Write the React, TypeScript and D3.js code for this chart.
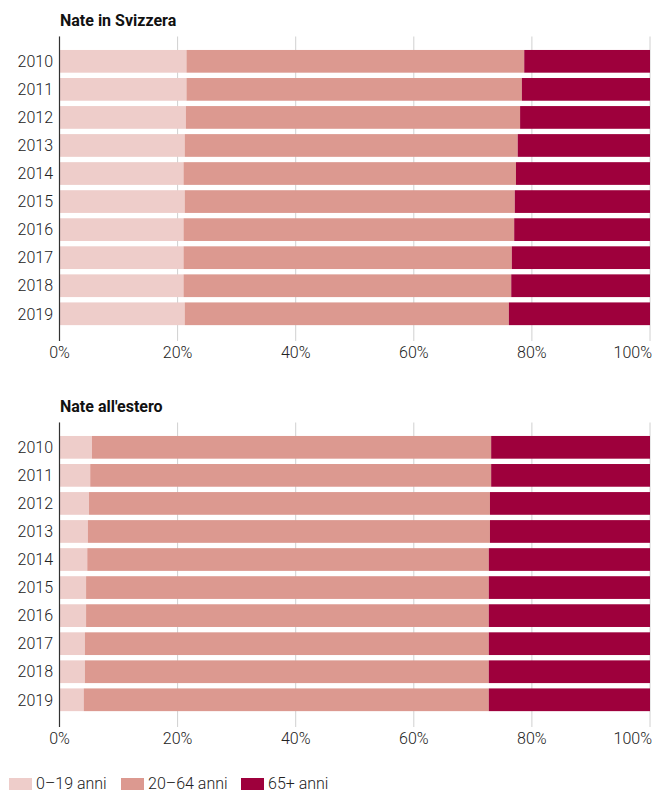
import React from "react";
import * as d3 from "d3";

const years = ["2010", "2011", "2012", "2013", "2014", "2015", "2016", "2017", "2018", "2019"];
const seriesKeys = ["0–19 anni", "20–64 anni", "65+ anni"];
const colors = ["#eecdca", "#dc9990", "#9e003c"];

// Nate in Svizzera (percent)
const swissYoung = [21.5, 21.5, 21.4, 21.2, 21.0, 21.2, 21.0, 21.0, 21.0, 21.2];
const swissOld = [21.3, 21.7, 22.0, 22.4, 22.7, 22.9, 23.0, 23.4, 23.5, 23.9];
// Nate all'estero (percent)
const foreignYoung = [5.5, 5.2, 5.0, 4.8, 4.7, 4.5, 4.5, 4.3, 4.3, 4.1];
const foreignOld = [26.9, 26.9, 27.1, 27.1, 27.3, 27.3, 27.3, 27.3, 27.3, 27.3];

const tickValues = [0, 20, 40, 60, 80, 100];

const W = 653;
const H = 792;
const FONT = "Roboto, 'Noto Sans', sans-serif";

function Panel({ title, young, old, top }: { title: string; young: number[]; old: number[]; top: number }) {
  const x = d3.scaleLinear().domain([0, 100]).range([59.5, 650]);
  const y = d3
    .scaleBand<string>()
    .domain(years)
    .range([top + 47.3, top + 47.3 + 28.05 * years.length])
    .paddingInner(0.19)
    .paddingOuter(0.095);
  const rows = years.map((yr, i) => {
    const mid = 100 - young[i] - old[i];
    return { yr, vals: [young[i], mid, old[i]] };
  });
  const stack = rows.map((r) => {
    let acc = 0;
    return r.vals.map((v) => {
      const s = acc;
      acc += v;
      return [s, acc];
    });
  });
  const gridTop = top + 36.5;
  const gridBottom = top + 341;
  return (
    <g>
      <text x={60} y={top + 26} fontFamily={FONT} fontWeight={700} fontSize={16} fill="#111">
        {title}
      </text>
      {tickValues.map((t) => (
        <line key={t} x1={x(t)} x2={x(t)} y1={gridTop} y2={gridBottom} stroke="#d0d0d0" strokeWidth={1} />
      ))}
      {rows.map((r, i) =>
        stack[i].map((s, k) => (
          <rect
            key={r.yr + k}
            x={x(s[0])}
            width={x(s[1]) - x(s[0])}
            y={y(r.yr)}
            height={y.bandwidth()}
            fill={colors[k]}
          />
        ))
      )}
      <line x1={59.5} x2={59.5} y1={gridTop} y2={gridBottom} stroke="#333" strokeWidth={1.2} />
      {years.map((yr) => (
        <text
          key={yr}
          x={53}
          y={(y(yr) as number) + y.bandwidth() / 2}
          dy="0.36em"
          textAnchor="end"
          fontFamily={FONT}
          fontWeight={300}
          fontSize={16}
          fill="#222"
        >
          {yr}
        </text>
      ))}
      {tickValues.map((t, i) => (
        <text
          key={t}
          x={i === tickValues.length - 1 ? 652 : x(t)}
          y={top + 358}
          textAnchor={i === tickValues.length - 1 ? "end" : "middle"}
          fontFamily={FONT}
          fontWeight={300}
          fontSize={16}
          fill="#222"
        >
          {t}%
        </text>
      ))}
    </g>
  );
}

export default function App() {
  const legendX = [9, 121, 241];
  return (
    <svg width={W} height={H} style={{ position: "absolute", left: 0, top: 0 }}>
      <rect width={W} height={H} fill="#fff" />
      <Panel title="Nate in Svizzera" young={swissYoung} old={swissOld} top={0} />
      <Panel title="Nate all'estero" young={foreignYoung} old={foreignOld} top={386} />
      {seriesKeys.map((k, i) => (
        <g key={k}>
          <rect x={legendX[i]} y={778} width={23} height={12} fill={colors[i]} />
          <text x={legendX[i] + 27} y={789} fontFamily={FONT} fontWeight={300} fontSize={16} fill="#222">
            {k}
          </text>
        </g>
      ))}
    </svg>
  );
}
